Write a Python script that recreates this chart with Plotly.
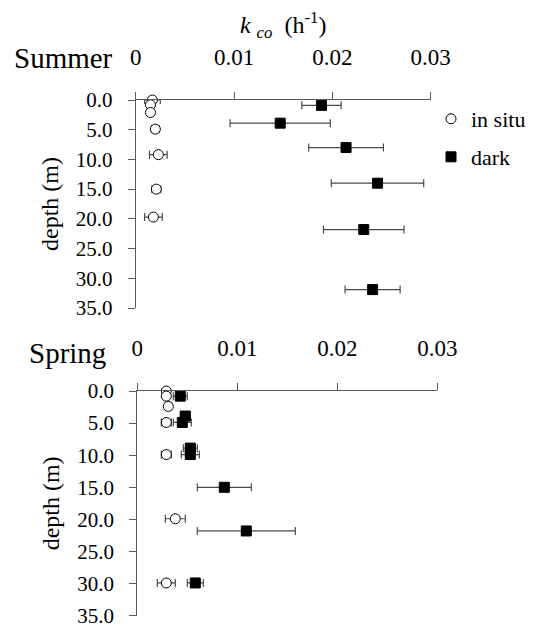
import plotly.graph_objects as go

# ---------------- data ----------------
# Summer
summer_insitu_depth = [0.0, 0.8, 2.1, 4.9, 9.2, 15.0, 19.7]
summer_insitu_k     = [0.0017, 0.0015, 0.0015, 0.0020, 0.0023, 0.0021, 0.0018]
summer_insitu_err   = [0.0008, 0.0003, 0.0003, 0.0004, 0.0009, 0.00045, 0.0009]

summer_dark_depth = [0.9, 3.9, 8.0, 14.0, 21.8, 31.9]
summer_dark_k     = [0.0189, 0.0147, 0.0214, 0.0246, 0.0232, 0.0241]
summer_dark_err   = [0.0020, 0.0051, 0.0038, 0.0047, 0.0041, 0.0028]

# Spring
spring_insitu_depth = [0.0, 0.8, 2.4, 4.9, 9.9, 19.9, 29.9]
spring_insitu_k     = [0.0029, 0.0029, 0.0031, 0.0029, 0.0029, 0.0038, 0.0029]
spring_insitu_err   = [0.0003, 0.0003, 0.0003, 0.0005, 0.0005, 0.0010, 0.0009]

spring_dark_depth = [0.8, 3.9, 4.9, 8.9, 9.9, 15.0, 21.8, 29.9]
spring_dark_k     = [0.0043, 0.0048, 0.0045, 0.0053, 0.0053, 0.0087, 0.0109, 0.0058]
spring_dark_err   = [0.0007, 0.0005, 0.0009, 0.0007, 0.0009, 0.0027, 0.0049, 0.0008]

x_tickvals = [0, 0.01, 0.02, 0.03]
x_ticktext = ["0", "0.01", "0.02", "0.03"]
y_tickvals = [0, 5, 10, 15, 20, 25, 30, 35]
y_ticktext = ["0.0", "5.0", "10.0", "15.0", "20.0", "25.0", "30.0", "35.0"]

FONT = "Liberation Serif"
AXC = "#5a5a5a"
ERRC = "#4a4a4a"

W, H = 540, 644
OFF = 8  # page body margin of the browser

fig = go.Figure()

def add_pair(xa, ya, ins_d, ins_k, ins_e, dk_d, dk_k, dk_e, show):
    fig.add_trace(go.Scatter(
        x=ins_k, y=ins_d, mode="markers", name="in situ",
        xaxis=xa, yaxis=ya, cliponaxis=False,
        marker=dict(symbol="circle", size=10, color="white",
                    line=dict(color="black", width=1)),
        error_x=dict(type="data", array=ins_e, color=ERRC, thickness=1.2, width=4),
        showlegend=show, legend="legend"))
    fig.add_trace(go.Scatter(
        x=dk_k, y=dk_d, mode="markers", name="dark",
        xaxis=xa, yaxis=ya, cliponaxis=False,
        marker=dict(symbol="square", size=10, color="black",
                    line=dict(color="black", width=1)),
        error_x=dict(type="data", array=dk_e, color=ERRC, thickness=1.2, width=4),
        showlegend=show, legend="legend2"))

add_pair("x", "y", summer_insitu_depth, summer_insitu_k, summer_insitu_err,
         summer_dark_depth, summer_dark_k, summer_dark_err, True)
add_pair("x2", "y2", spring_insitu_depth, spring_insitu_k, spring_insitu_err,
         spring_dark_depth, spring_dark_k, spring_dark_err, False)

def px_x(p):
    return (p - OFF) / W

def px_y(p):
    return 1 - (p - OFF) / H

def xax():
    return dict(range=[0, 0.03], tickvals=x_tickvals, ticktext=x_ticktext,
                side="top", ticks="outside", ticklen=7, tickcolor=AXC,
                showline=True, linecolor=AXC, linewidth=1.2,
                showgrid=False, zeroline=False, automargin=False,
                tickfont=dict(family=FONT, size=23, color="black"),
                ticklabelstandoff=18)

def yax():
    return dict(range=[35, 0], tickvals=y_tickvals, ticktext=y_ticktext,
                ticks="outside", ticklen=7, tickcolor=AXC,
                showline=True, linecolor=AXC, linewidth=1.2,
                showgrid=False, zeroline=False, automargin=False,
                tickfont=dict(family=FONT, size=21, color="black"),
                ticklabelstandoff=11,
                title=dict(text="depth (m)", font=dict(family=FONT, size=24, color="black"),
                           standoff=10))

fig.update_layout(
    template="none",
    width=W, height=H,
    margin=dict(l=0, r=0, t=0, b=0),
    paper_bgcolor="white", plot_bgcolor="white",
    font=dict(family=FONT, color="black"),
    xaxis=dict(domain=[px_x(135.7), px_x(430.6)], anchor="y",
               title=dict(text="<i>k</i> <sub><i>co</i></sub>  (h<sup>-1</sup>)",
                          font=dict(family=FONT, size=24, color="black"), standoff=8),
               **xax()),
    yaxis=dict(domain=[px_y(308), px_y(100)], anchor="x", **yax()),
    xaxis2=dict(domain=[px_x(137.3), px_x(437.3)], anchor="y2", **xax()),
    yaxis2=dict(domain=[px_y(615.7), px_y(391)], anchor="x2", **yax()),
    legend=dict(x=px_x(431), y=px_y(119), xanchor="left", yanchor="middle",
                bgcolor="rgba(0,0,0,0)", itemsizing="trace", borderwidth=0,
                font=dict(family=FONT, size=22, color="black")),
    legend2=dict(x=px_x(431), y=px_y(157), xanchor="left", yanchor="middle",
                 bgcolor="rgba(0,0,0,0)", itemsizing="trace", borderwidth=0,
                 font=dict(family=FONT, size=22, color="black")),
    annotations=[
        dict(text="Summer", x=px_x(12), y=px_y(58), xref="paper", yref="paper",
             xanchor="left", yanchor="middle", showarrow=False,
             font=dict(family=FONT, size=29, color="black")),
        dict(text="Spring", x=px_x(27), y=px_y(353), xref="paper", yref="paper",
             xanchor="left", yanchor="middle", showarrow=False,
             font=dict(family=FONT, size=29, color="black")),
    ],
)

fig.write_html("out.html")
